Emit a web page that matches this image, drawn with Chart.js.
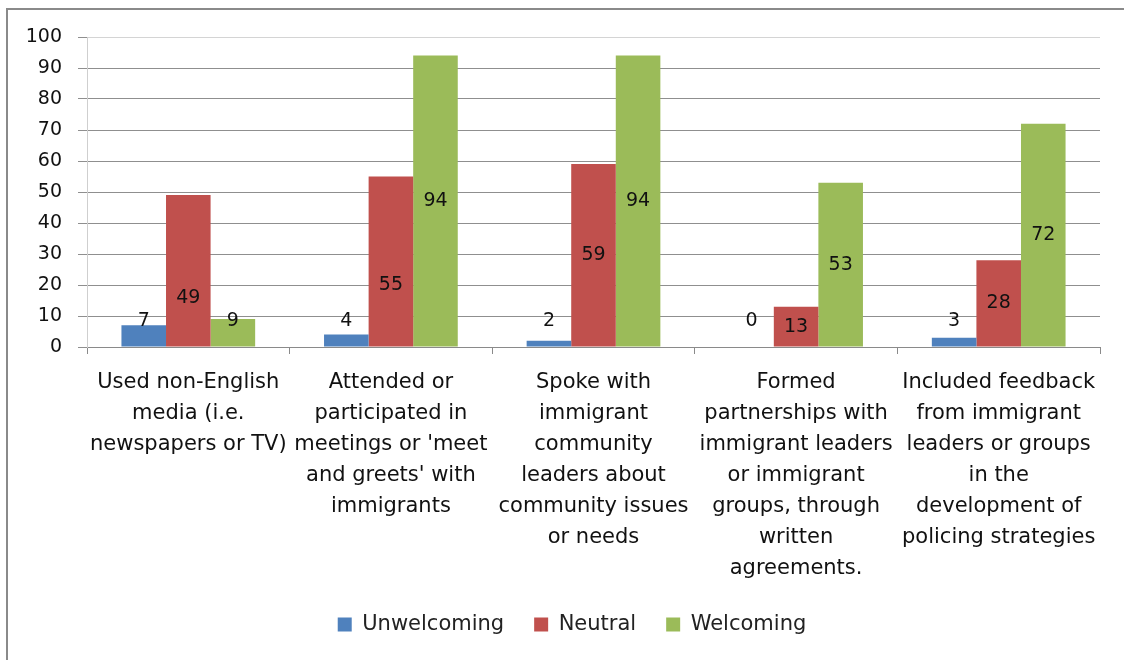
<!DOCTYPE html>
<html>
<head>
<meta charset="utf-8">
<script src="https://cdn.jsdelivr.net/npm/chart.js@4"></script>
<style>
  html, body { margin: 0; padding: 0; background: #fff; }
  #wrap { width: 1124px; height: 660px; position: relative; }
</style>
</head>
<body>
<div id="wrap"><canvas id="c" width="1124" height="660"></canvas></div>
<script>
const categories = [
  ["Used non-English", "media (i.e.", "newspapers or TV)"],
  ["Attended or", "participated in", "meetings or 'meet", "and greets' with", "immigrants"],
  ["Spoke with", "immigrant", "community", "leaders about", "community issues", "or needs"],
  ["Formed", "partnerships with", "immigrant leaders", "or immigrant", "groups, through", "written", "agreements."],
  ["Included feedback", "from immigrant", "leaders or groups", "in the", "development of", "policing strategies"]
];
const unwelcoming = [7, 4, 2, 0, 3];
const neutral = [49, 55, 59, 13, 28];
const welcoming = [9, 94, 94, 53, 72];
const yTicks = [0, 10, 20, 30, 40, 50, 60, 70, 80, 90, 100];

const FONT = "'DejaVu Sans', sans-serif";

const borderPlugin = {
  id: 'frame',
  beforeDraw(chart) {
    const ctx = chart.ctx;
    ctx.save();
    ctx.fillStyle = '#fff';
    ctx.fillRect(0, 0, chart.width, chart.height);
    ctx.strokeStyle = '#8a8a8a';
    ctx.lineWidth = 2;
    ctx.strokeRect(7, 9, chart.width + 20, chart.height + 20);
    ctx.restore();
  }
};

const labelPlugin = {
  id: 'barLabels',
  afterDatasetsDraw(chart, args, opts) {
    const ctx = chart.ctx;
    const yScale = chart.scales.y;
    ctx.save();
    ctx.font = '19px ' + FONT;
    ctx.fillStyle = '#111';
    ctx.textAlign = 'center';
    ctx.textBaseline = 'middle';
    const shift = opts.shift || {};
    const smallLevel = yScale.getPixelForValue(8.5);
    chart.data.datasets.forEach((ds, di) => {
      const meta = chart.getDatasetMeta(di);
      meta.data.forEach((bar, i) => {
        const v = ds.data[i];
        let y;
        if (v < 12) {
          y = Math.min(bar.y + 2, smallLevel);
        } else {
          y = (bar.y + bar.base) / 2;
        }
        y += (shift[di + '-' + i] || 0);
        ctx.fillText(String(v), bar.x, y);
      });
    });
    ctx.restore();
  }
};

new Chart(document.getElementById('c'), {
  type: 'bar',
  data: {
    labels: categories,
    datasets: [
      { label: 'Unwelcoming', data: unwelcoming, backgroundColor: '#4f81bd' },
      { label: 'Neutral', data: neutral, backgroundColor: '#c0504d' },
      { label: 'Welcoming', data: welcoming, backgroundColor: '#9bbb59' }
    ]
  },
  options: {
    responsive: false,
    animation: false,
    devicePixelRatio: 1,
    layout: { padding: { left: 20, right: 0, top: 37, bottom: 15 } },
    datasets: { bar: { categoryPercentage: 0.66, barPercentage: 1.0 } },
    plugins: {
      legend: {
        position: 'bottom',
        labels: {
          font: { family: FONT, size: 21 },
          color: '#222',
          boxWidth: 14,
          boxHeight: 14,
          padding: 30
        }
      },
      tooltip: { enabled: false },
      barLabels: { shift: { '1-0': 27, '1-1': 24 } }
    },
    scales: {
      x: {
        afterFit: s => { s.height = 237; },
        grid: {
          offset: true,
          drawOnChartArea: false,
          drawTicks: true,
          tickLength: 7,
          color: '#8a8a8a'
        },
        border: { color: '#8a8a8a', width: 1 },
        ticks: {
          font: { family: FONT, size: 21, lineHeight: 1.476 },
          color: '#111',
          padding: 13,
          maxRotation: 0,
          autoSkip: false
        }
      },
      y: {
        min: 0,
        max: 100,
        afterFit: s => { s.width = 67; },
        afterBuildTicks: s => { s.ticks = yTicks.map(v => ({ value: v })); },
        grid: {
          color: ctx => ctx.tick && ctx.tick.value === 100 ? '#d4d4d4' : '#8f8f8f',
          tickLength: 9,
          tickColor: '#8f8f8f'
        },
        border: { color: '#cfcfcf', width: 1 },
        ticks: {
          font: { family: FONT, size: 19 },
          color: '#111',
          padding: 16
        }
      },
      yRight: {
        position: 'right',
        min: 0,
        max: 100,
        afterFit: s => { s.width = 24; },
        grid: { display: false, drawTicks: false },
        border: { display: false },
        ticks: { display: false }
      }
    }
  },
  plugins: [borderPlugin, labelPlugin]
});
</script>
</body>
</html>
